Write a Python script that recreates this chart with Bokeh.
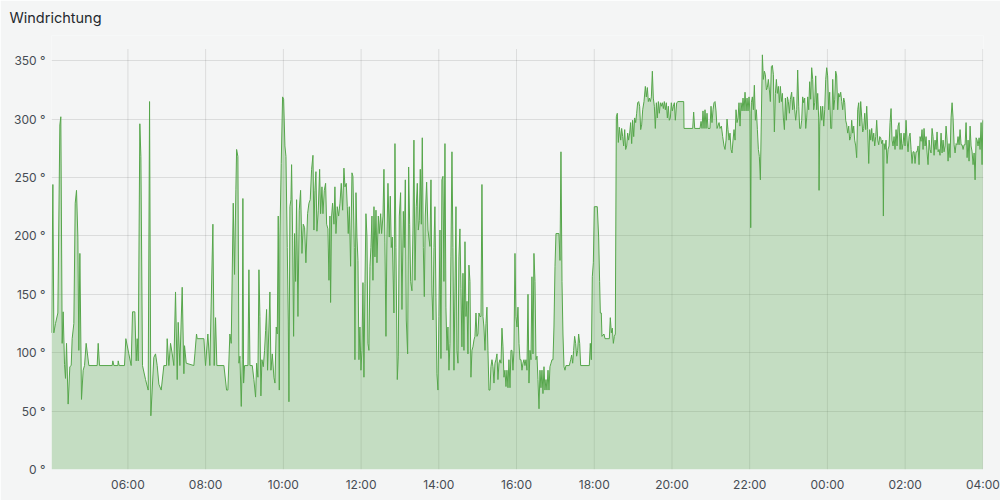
from bokeh.plotting import figure
from bokeh.models import Range1d, FixedTicker
from bokeh.embed import file_html
from bokeh.resources import INLINE

# ---- data: minutes since 04:00, wind direction in degrees ----
minutes = [
    2.0, 4.1, 5.6, 8.2, 11.8, 14.9, 16.4, 18.5, 20.0, 22.1,
    23.6, 25.2, 27.7, 30.3, 32.4, 33.9, 36.5, 38.6, 40.6, 42.7,
    44.2, 45.8, 48.3, 50.9, 53.0, 55.5, 59.7, 72.5, 74.1, 76.1,
    95.7, 96.7, 98.3, 104.5, 105.0, 106.5, 114.7, 116.8, 121.4, 125.0,
    127.1, 130.7, 132.8, 134.3, 135.9, 138.4, 140.0, 142.5, 147.2, 151.3,
    153.4, 155.4, 160.0, 162.6, 165.2, 167.8, 171.4, 175.5, 179.6, 180.6,
    183.2, 185.8, 188.4, 190.9, 193.5, 196.1, 197.6, 200.2, 203.8, 206.4,
    207.4, 210.0, 221.8, 223.4, 225.9, 227.0, 237.3, 239.8, 243.4, 246.5,
    251.2, 253.2, 255.3, 257.3, 268.2, 272.3, 274.3, 277.4, 279.5, 282.6,
    284.6, 286.7,
    287.8, 289.8, 291.4, 292.9, 295.0, 296.5, 297.5, 298.6, 300.1, 305.3,
    306.8, 308.4, 312.0, 314.5, 317.1, 318.7, 320.7, 322.3, 323.8, 325.3,
    326.9, 329.0, 331.0, 332.6, 334.1, 335.6, 337.7, 339.2, 340.8, 342.9,
    345.4, 347.0, 349.0, 350.6, 352.1, 353.7, 354.7, 356.7, 358.8, 360.4,
    362.4, 364.0, 366.0, 367.6, 368.6, 370.1, 371.7, 372.7, 374.3, 375.8,
    377.3, 378.9, 380.4, 382.5, 384.5, 386.6, 388.7, 390.7, 392.8, 394.8,
    397.4, 399.5, 401.5, 403.6, 405.7, 407.2, 408.7, 410.3, 411.8, 413.9,
    416.0, 417.5, 419.6, 421.1, 423.2, 425.2, 426.8, 428.8, 430.4, 431.9,
    432.9, 434.5, 436.0, 438.1, 439.6, 441.2, 443.2, 445.3, 447.4, 449.4,
    451.5, 453.5, 455.1, 457.1, 458.7, 460.2, 461.8, 463.8, 465.9, 467.4,
    469.5, 470.5, 472.1, 473.6, 475.2, 476.7, 478.2, 479.8, 481.3, 482.9,
    484.4, 486.0, 487.5, 489.1, 490.6, 492.1, 493.7, 495.2, 496.8, 498.3,
    499.9, 501.4, 503.0, 504.5, 506.6, 508.1, 510.2, 511.7, 513.8, 515.3,
    516.8, 518.4, 519.9, 521.5, 523.5, 525.1, 526.6, 528.2, 530.7, 532.3,
    533.8, 535.9, 537.4, 539.0, 541.0, 543.1, 545.2, 546.7, 548.3, 549.8,
    551.9, 553.4, 555.0, 556.5, 558.5, 560.1, 561.6, 563.2, 565.2, 566.8,
    568.3, 569.9, 571.4, 573.0, 574.5, 576.1, 577.6, 579.1, 581.2, 583.3,
    586.3, 587.9, 589.4, 591.0, 592.5, 594.0, 595.6, 597.1, 598.7, 600.2,
    601.8, 603.3, 604.8, 606.4, 607.9, 609.5, 611.0, 612.6, 614.1, 615.7,
    617.2, 618.7, 620.3, 621.8, 623.4, 624.9, 626.5, 628.0, 629.6, 631.1,
    632.6, 634.2, 635.7, 637.3, 638.8, 640.4, 641.9, 643.5, 645.0, 646.5,
    648.1, 649.6, 651.2, 652.7, 654.3, 655.8, 657.4, 658.9, 660.4, 662.0,
    663.5, 665.1, 666.6, 668.2, 669.7, 671.3, 672.8, 674.3, 675.9, 677.4,
    679.0, 680.5, 682.1, 683.6, 685.2, 686.7, 688.2, 689.8, 691.3, 692.9,
    694.4, 696.0, 697.5, 699.1, 700.6, 702.1, 703.7, 705.2, 706.8, 708.3,
    709.9, 711.4, 713.0, 714.5, 716.0, 717.6, 719.1, 720.7, 722.2, 723.8,
    725.3, 726.9, 728.4, 729.9, 731.5, 733.0, 734.6, 736.1, 737.7, 739.2,
    740.8, 742.3, 743.8, 745.4, 746.9, 748.5, 750.0, 751.6, 753.1, 754.7,
    756.2, 757.7, 759.3, 760.8, 762.4, 763.9, 765.5, 767.0, 768.6, 770.1,
    771.6, 773.2, 774.7, 776.3, 777.8, 779.4, 780.9, 785.5, 787.1, 788.6,
    790.2, 791.7, 793.3, 794.8, 796.3, 801.5, 803.6, 805.1, 806.7, 808.2,
    809.7, 811.3, 812.8, 814.4, 815.9, 817.5, 819.0, 832.4, 833.9, 835.5,
    837.0, 838.6, 840.1, 844.7, 846.8, 848.3, 849.4, 850.9, 851.9, 855.0,
    856.6, 863.3, 864.8, 866.4, 867.9, 869.5, 871.0, 872.5, 874.1, 875.6,
    877.2, 878.7,
    879.2, 880.8, 882.3, 883.9, 885.4, 887.0, 888.5, 890.1, 891.6, 893.1,
    894.7, 896.2, 897.8, 899.3, 900.9, 902.4, 904.0, 905.5, 907.0, 908.6,
    910.1, 911.7, 913.2, 914.8, 916.8, 918.9, 920.4, 922.0, 923.5, 925.1,
    926.6, 928.2, 929.7, 931.2, 932.8, 934.3, 935.9, 937.4, 939.0, 940.5,
    942.1, 943.6, 945.1, 946.7, 948.2, 949.8, 951.3, 952.9, 954.4, 955.9,
    957.5, 959.0, 960.6, 962.1, 963.7, 965.2, 967.3, 969.3, 978.1, 978.6,
    992.0, 993.5, 995.1, 1003.3, 1004.9, 1006.4, 1007.9, 1009.5, 1011.0, 1012.6,
    1014.1, 1015.7, 1018.7, 1020.3, 1021.8, 1023.4, 1024.9, 1026.5, 1028.0, 1029.6,
    1032.7, 1034.2, 1036.3, 1038.3, 1040.4, 1041.9, 1043.5, 1045.0, 1046.5, 1048.1,
    1049.6, 1051.2, 1052.7, 1054.3, 1055.8, 1057.4, 1058.9, 1060.5, 1062.0, 1063.5,
    1065.1, 1066.6, 1068.2, 1069.7, 1071.3, 1072.8, 1074.4, 1075.9, 1077.4, 1079.0,
    1080.5, 1081.6, 1082.6, 1084.1, 1085.7, 1087.2, 1088.8, 1090.3, 1091.9, 1093.4,
    1094.9, 1096.5, 1098.0, 1099.6, 1101.1, 1102.7, 1104.2, 1105.8, 1107.3, 1108.8,
    1110.4, 1111.9, 1113.5, 1115.0, 1116.6, 1118.1, 1119.7, 1121.2, 1122.7, 1124.3,
    1125.8, 1127.4, 1128.9, 1130.5, 1132.0, 1133.6, 1135.1, 1136.6, 1138.2, 1139.7,
    1141.3, 1142.8,
    1144.8, 1146.4, 1147.9, 1149.5, 1151.0, 1152.6, 1154.1, 1155.7, 1157.2, 1158.7,
    1160.3, 1161.8, 1163.4, 1164.9, 1166.5, 1168.0, 1169.6, 1171.1, 1172.6, 1174.2,
    1175.7, 1177.3, 1178.8, 1180.4, 1181.9, 1183.5, 1185.0, 1186.5, 1187.1, 1188.1,
    1189.6, 1191.2, 1192.7, 1194.3, 1195.8, 1197.4, 1198.9, 1200.4, 1202.0, 1203.5,
    1205.1, 1206.6, 1208.2, 1209.7, 1211.3, 1212.8, 1214.3, 1215.9, 1217.4, 1219.0,
    1220.5, 1222.1, 1223.6, 1225.2, 1226.7, 1228.2, 1229.8, 1231.3, 1232.9, 1234.4,
    1236.0, 1237.5, 1239.1, 1240.6, 1242.1, 1243.7, 1245.2, 1246.8, 1248.3, 1249.9,
    1251.4, 1253.0, 1254.5, 1256.0, 1257.6, 1259.1, 1260.7, 1262.2, 1263.8, 1265.3,
    1266.9, 1268.4, 1269.9, 1271.5, 1273.0, 1274.6, 1276.1, 1277.7, 1279.2, 1280.8,
    1282.3, 1283.8, 1285.4, 1286.4, 1287.4, 1289.0, 1290.5, 1292.1, 1293.6, 1295.2,
    1296.7, 1298.3, 1299.8, 1301.3, 1302.9, 1304.4, 1306.0, 1307.5, 1309.1, 1310.6,
    1312.2, 1313.7, 1315.2, 1316.8, 1318.3, 1319.9, 1321.4, 1323.0, 1324.5, 1326.1,
    1327.6, 1329.2, 1330.7, 1332.2, 1333.8, 1335.3, 1336.9, 1338.4, 1340.0, 1341.5,
    1343.1, 1344.6, 1346.1, 1347.7, 1349.2, 1350.8, 1352.3, 1353.9, 1355.4, 1357.0,
    1358.5, 1360.0, 1361.6, 1363.1, 1364.7, 1366.2, 1367.8, 1369.3, 1370.9, 1372.4,
    1373.9, 1375.5, 1377.0, 1378.6, 1380.1, 1381.7, 1383.2, 1384.8, 1386.3, 1387.8,
    1389.4, 1390.9, 1392.5, 1394.0, 1395.6, 1397.1, 1398.7, 1400.2, 1401.7, 1403.3,
    1404.8, 1406.4, 1407.9, 1409.5, 1411.0, 1412.6, 1414.1, 1415.7, 1417.2, 1418.7,
    1420.3, 1421.8, 1423.4, 1424.9, 1426.5, 1428.0, 1429.6, 1431.1, 1432.6, 1434.2,
    1435.7, 1437.3, 1438.8, 1440.0,
]

direction = [
    117, 244, 117, 125, 134, 295, 302, 108, 135, 90,
    78, 108, 56, 88, 89, 112, 125, 228, 239, 199,
    102, 185, 60, 85, 89, 108, 89, 89, 108, 89,
    89, 93, 89, 89, 93, 89, 89, 112, 99, 89,
    135, 135, 93, 112, 93, 296, 268, 89, 77, 68,
    315, 46, 96, 99, 89, 73, 68, 89, 89, 112,
    89, 108, 99, 89, 152, 77, 126, 89, 156, 82,
    106, 91, 89, 99, 116, 112, 112, 89, 116, 89,
    210, 89, 130, 89, 89, 68, 68, 116, 108, 228,
    167, 240,
    274, 268, 91, 97, 54, 94, 232, 74, 89, 89,
    171, 89, 89, 77, 62, 91, 79, 171, 131, 63,
    94, 88, 102, 119, 137, 85, 122, 152, 85, 99,
    79, 74, 122, 116, 217, 68, 199, 262, 319, 317,
    277, 268, 190, 128, 58, 225, 231, 261, 199, 114,
    202, 161, 231, 131, 222, 239, 185, 210, 207, 177,
    219, 228, 231, 257, 269, 205, 239, 255, 204, 222,
    257, 219, 242, 219, 239, 245, 210, 206, 162, 217,
    143, 217, 228, 210, 242, 202, 225, 217, 228, 245,
    222, 258, 242, 245, 225, 202, 225, 174, 254, 251,
    190, 94, 237, 199, 179, 94, 122, 85, 102, 160,
    79, 159, 219, 199, 108, 102, 174, 190, 217, 162,
    225, 182, 222, 177, 217, 202, 219, 202, 217, 257,
    194, 114, 199, 245, 199, 234, 190, 199, 134, 279,
    190, 77, 97, 217, 237, 137, 221, 190, 248, 128,
    99, 259, 210, 161, 153, 205, 282, 162, 225, 245,
    205, 213, 257, 210, 284, 190, 148, 217, 246, 205,
    191, 248, 152, 128, 190, 225, 147, 82, 68, 131,
    205, 95, 248, 251, 161, 279, 139, 102, 122, 85,
    108, 182, 272, 190, 85, 152, 225, 102, 91, 182,
    206, 155, 105, 168, 102, 195, 131, 144, 99, 175,
    161, 79, 102, 105, 111, 114, 134, 114, 116, 134,
    131, 131, 244, 131, 122, 102, 125, 139, 102, 68,
    68, 88, 94, 88, 74, 91, 94, 99, 77, 91,
    94, 91, 121, 105, 79, 85, 71, 85, 70, 94,
    70, 102, 102, 85, 102, 185, 131, 122, 139, 108,
    94, 94, 85, 91, 94, 89, 94, 85, 150, 74,
    102, 94, 165, 99, 185, 161, 94, 97, 77, 52,
    85, 70, 85, 65, 88, 68, 77, 68, 85, 68,
    88, 91, 94, 94, 122, 174, 202, 202, 179, 272,
    161, 116, 88, 85, 89, 89, 94, 98, 91, 102,
    114, 108, 97, 102, 116, 108, 89, 89, 108, 94,
    165, 177, 225, 225, 199, 161, 134, 134, 114, 116,
    112, 112, 130, 117, 121, 108, 114, 116, 302, 305,
    280, 293,
    291, 282, 292, 285, 277, 291, 274, 277, 288, 282,
    288, 297, 279, 299, 285, 301, 297, 305, 314, 315,
    311, 291, 295, 308, 315, 328, 319, 327, 315, 318,
    315, 319, 341, 318, 311, 292, 314, 301, 315, 305,
    314, 311, 314, 309, 315, 308, 314, 301, 311, 299,
    301, 314, 307, 311, 314, 299, 314, 315, 315, 292,
    292, 306, 292, 292, 298, 292, 307, 292, 308, 292,
    305, 292, 292, 311, 297, 308, 314, 315, 307, 292,
    297, 292, 294, 285, 277, 274, 282, 300, 291, 282,
    288, 274, 271, 282, 291, 282, 308, 297, 301, 314,
    294, 314, 307, 318, 307, 323, 307, 318, 307, 319,
    305, 207, 314, 319, 308, 329, 299, 308, 291, 274,
    268, 248, 301, 355, 334, 341, 338, 325, 327, 334,
    325, 315, 345, 346, 338, 289, 322, 334, 322, 328,
    314, 328, 315, 322, 301, 291, 318, 299, 319, 315,
    305, 317,
    323, 308, 319, 308, 299, 308, 342, 311, 292, 292,
    299, 319, 314, 318, 292, 301, 319, 308, 332, 317,
    344, 334, 308, 314, 337, 308, 322, 301, 239, 294,
    311, 299, 311, 294, 308, 334, 344, 337, 308, 323,
    292, 292, 334, 308, 317, 341, 337, 308, 322, 319,
    323, 315, 308, 318, 314, 299, 295, 288, 294, 282,
    285, 299, 288, 294, 282, 277, 267, 308, 314, 294,
    315, 301, 289, 292, 305, 291, 311, 291, 262, 291,
    282, 292, 281, 288, 277, 285, 299, 282, 278, 285,
    284, 279, 282, 217, 279, 274, 282, 262, 274, 277,
    297, 309, 282, 277, 285, 274, 291, 277, 294, 297,
    274, 288, 274, 279, 288, 277, 299, 282, 272, 285,
    288, 274, 262, 272, 272, 262, 272, 272, 277, 261,
    285, 281, 291, 274, 292, 277, 285, 271, 261, 282,
    274, 271, 292, 285, 269, 282, 274, 289, 272, 274,
    269, 288, 271, 282, 272, 277, 294, 282, 264, 279,
    267, 301, 314, 301, 278, 271, 279, 278, 285, 278,
    291, 278, 278, 274, 278, 278, 297, 267, 282, 264,
    294, 277, 272, 261, 271, 248, 284, 282, 277, 284,
    274, 297, 261, 299,
]

assert len(minutes) == len(direction), (len(minutes), len(direction))

x_tick_minutes = [120, 240, 360, 480, 600, 720, 840, 960, 1080, 1200, 1320, 1440]
x_tick_labels = ["06:00", "08:00", "10:00", "12:00", "14:00", "16:00",
                 "18:00", "20:00", "22:00", "00:00", "02:00", "04:00"]
y_ticks = [0, 50, 100, 150, 200, 250, 300, 350]
y_tick_labels = ["0 °", "50 °", "100 °", "150 °", "200 °", "250 °", "300 °", "350 °"]
title_text = "Windrichtung"

BG = "#f4f5f5"
GREEN = "#56a64b"
FONT = "Inter"

# layout: the title panel sets the frame top; the value axis top (360)
# is kept at y=49 px, and the zero line at y=469 px
W, H = 1000, 500
LEFT, RIGHT, BOTTOM = 51, 17, 31
TITLE_STANDOFF = 16
TITLE_BOX_H = 17.5                      # estimated text box height at 14.5px
FRAME_TOP = 2 + TITLE_BOX_H + TITLE_STANDOFF
VALUE_TOP = 360                         # value drawn at y=49 px
X0, X1 = 2, 1441
Y0 = 0
Y1 = VALUE_TOP * (H - BOTTOM - FRAME_TOP) / (H - BOTTOM - 49)

p = figure(width=W, height=H, output_backend="svg", toolbar_location=None,
           x_range=Range1d(X0, X1), y_range=Range1d(Y0, Y1),
           min_border_left=LEFT, min_border_right=RIGHT, min_border_top=0,
           min_border_bottom=BOTTOM, background_fill_color=BG,
           border_fill_color=BG, outline_line_color=None,
           title=title_text)

# vertical grid lines, limited to the value area (0 .. 360)
p.segment(x0=x_tick_minutes, y0=[Y0] * len(x_tick_minutes),
          x1=x_tick_minutes, y1=[VALUE_TOP] * len(x_tick_minutes),
          line_color="#000000", line_alpha=0.1, line_width=1)

p.varea(x=minutes, y1=0, y2=direction, fill_color=GREEN, fill_alpha=0.3)
p.line(x=minutes, y=direction, line_color=GREEN, line_width=1)

p.xaxis.ticker = FixedTicker(ticks=x_tick_minutes)
p.xaxis.major_label_overrides = dict(zip(x_tick_minutes, x_tick_labels))
p.yaxis.ticker = FixedTicker(ticks=y_ticks)
p.yaxis.major_label_overrides = dict(zip(y_ticks, y_tick_labels))

for ax in (p.xaxis, p.yaxis):
    ax.axis_line_color = None
    ax.major_tick_line_color = None
    ax.minor_tick_line_color = None
    ax.major_tick_in = 0
    ax.major_tick_out = 0
    ax.minor_tick_in = 0
    ax.minor_tick_out = 0
    ax.major_label_text_font = FONT
    ax.major_label_text_font_size = "12px"
    ax.major_label_text_color = "#464c54"
p.xaxis.major_label_standoff = 7
p.yaxis.major_label_standoff = 6

p.xgrid.visible = False
p.ygrid.grid_line_color = "#000000"
p.ygrid.grid_line_alpha = 0.1

p.title.text_font = FONT
p.title.text_font_size = "14.5px"
p.title.text_font_style = "normal"
p.title.text_color = "#24292e"
p.title.align = "left"
p.title.vertical_align = "top"
p.title.offset = 9 - LEFT
p.title.standoff = TITLE_STANDOFF

open("out.html", "w").write(file_html(p, INLINE))
